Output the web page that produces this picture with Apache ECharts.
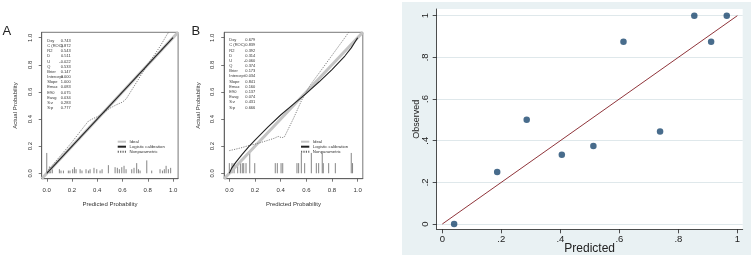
<!DOCTYPE html>
<html><head><meta charset="utf-8">
<script src="https://cdn.jsdelivr.net/npm/echarts@6/dist/echarts.min.js"></script>
<style>html,body{margin:0;padding:0;background:#fff}#c{width:753px;height:257px}</style>
</head><body><div id="c"></div>
<script>
// ---------- data ----------
const probTicks = [0, 0.2, 0.4, 0.6, 0.8, 1.0];
const statNames = ['Dxy','C (ROC)','R2','D','U','Q','Brier','Intercept','Slope','Emax','E90','Eavg','S:z','S:p'];
const statValuesA = ['0.743','0.872','0.543','0.511','-0.022','0.533','0.147','0.000','1.000','0.083','0.075','0.034','0.283','0.777'];
const statValuesB = ['0.679','0.839','0.392','0.314','-0.060','0.374','0.173','0.034','0.841','0.160','0.137','0.074','0.431','0.666'];
const legendNames = ['Ideal','Logistic calibration','Nonparametric'];
const idealLine = [[-0.04,-0.04],[1.04,1.04]];
const logisticA = [[0,0],[1,1]];
const nonparA = [[0.0,0.01],[0.05,0.065],[0.1,0.12],[0.15,0.175],[0.2,0.23],[0.25,0.29],[0.3,0.35],[0.33,0.385],[0.37,0.405],[0.42,0.425],[0.47,0.46],[0.5,0.48],[0.55,0.505],[0.6,0.525],[0.63,0.55],[0.67,0.61],[0.7,0.655],[0.75,0.73],[0.8,0.805],[0.85,0.87],[0.9,0.94],[0.95,1.02],[0.965,1.04]];
const spikesA = [[0.0,0.15],[0.021,0.05],[0.031,0.03],[0.044,0.03],[0.1,0.03],[0.113,0.02],[0.132,0.02],[0.171,0.02],[0.184,0.02],[0.205,0.03],[0.219,0.045],[0.232,0.03],[0.264,0.03],[0.279,0.02],[0.311,0.03],[0.33,0.02],[0.343,0.03],[0.374,0.04],[0.396,0.03],[0.422,0.02],[0.438,0.03],[0.488,0.06],[0.541,0.045],[0.559,0.04],[0.575,0.03],[0.594,0.045],[0.612,0.055],[0.628,0.03],[0.673,0.03],[0.691,0.04],[0.712,0.075],[0.726,0.03],[0.739,0.02],[0.792,0.095],[0.831,0.02],[0.897,0.03],[0.916,0.02],[0.931,0.03],[0.945,0.055],[0.963,0.03],[0.981,0.04]];
const logisticB = [[0,0],[0.02,0.04],[0.05,0.08],[0.1,0.14],[0.15,0.195],[0.2,0.245],[0.3,0.34],[0.4,0.43],[0.5,0.51],[0.6,0.59],[0.7,0.675],[0.8,0.765],[0.85,0.815],[0.9,0.865],[0.95,0.925],[1.0,1.0]];
const nonparB = [[0,0.167],[0.05,0.178],[0.1,0.19],[0.16,0.207],[0.2,0.215],[0.25,0.228],[0.3,0.243],[0.35,0.258],[0.38,0.272],[0.41,0.262],[0.43,0.27],[0.5,0.405],[0.564,0.54],[0.63,0.65],[0.7,0.74],[0.8,0.87],[0.9,1.0],[0.93,1.04]];
const spikesB = [[0.0,0.075],[0.021,0.075],[0.037,0.075],[0.065,0.075],[0.086,0.075],[0.101,0.075],[0.112,0.075],[0.13,0.075],[0.159,0.15],[0.198,0.075],[0.358,0.075],[0.374,0.075],[0.403,0.075],[0.416,0.075],[0.527,0.075],[0.54,0.075],[0.561,0.15],[0.587,0.075],[0.639,0.15],[0.678,0.075],[0.696,0.075],[0.724,0.15],[0.732,0.075],[0.774,0.075],[0.826,0.075],[0.95,0.15],[0.96,0.075]];
const predictedC = [0.04,0.186,0.286,0.405,0.512,0.614,0.738,0.854,0.911,0.964];
const observedC  = [0,0.25,0.5,0.333,0.375,0.875,0.444,1,0.875,1];
const fitLineC = [[0,0],[1,1]];
const cTicks = [0,0.2,0.4,0.6,0.8,1];
const cTickLabels = ['0','.2','.4','.6','.8','1'];

// ---------- chart ----------
const FONT = 'Liberation Sans, Arial, Helvetica, sans-serif';
const chart = echarts.init(document.getElementById('c'), null, {renderer:'canvas'});

function probX(gi){
  return {gridIndex:gi, type:'value', min:-0.04, max:1.04,
    name:'Predicted Probability', nameLocation:'middle', nameGap:23, nameMoveOverlap:false,
    nameTextStyle:{fontSize:6, color:'#333', fontFamily:FONT},
    axisLine:{show:true, onZero:false, lineStyle:{color:'#555', width:0.8}},
    axisTick:{show:true, length:3, customValues:probTicks, lineStyle:{color:'#555', width:0.8}},
    axisLabel:{customValues:probTicks, formatter:v=>Number(v).toFixed(1), fontSize:6, color:'#333', margin:9, fontFamily:FONT},
    splitLine:{show:false}};
}
function probY(gi){
  return {gridIndex:gi, type:'value', min:-0.04, max:1.04,
    name:'Actual Probability', nameLocation:'middle', nameGap:23, nameMoveOverlap:false,
    nameTextStyle:{fontSize:6, color:'#333', fontFamily:FONT},
    axisLine:{show:true, onZero:false, lineStyle:{color:'#555', width:0.8}},
    axisTick:{show:true, length:3, customValues:probTicks, lineStyle:{color:'#555', width:0.8}},
    axisLabel:{customValues:probTicks, rotate:90, formatter:v=>Number(v).toFixed(1), fontSize:6, color:'#333', margin:8.5, fontFamily:FONT},
    splitLine:{show:false}};
}
function spikeItem(params, api){
  const p0 = api.coord([api.value(0), 0]);
  const p1 = api.coord([api.value(0), api.value(1)]);
  return {type:'line', shape:{x1:p0[0], y1:p0[1], x2:p1[0], y2:p1[1]}, style:{stroke:'#777', lineWidth:0.9}};
}
function calSeries(gi, logistic, nonpar, spikes){
  return [
    {name:'Ideal', type:'line', xAxisIndex:gi, yAxisIndex:gi, data:idealLine, symbol:'none', silent:true,
      lineStyle:{color:'#c4c4c4', width:3}, itemStyle:{color:'#c4c4c4'}, z:2},
    {name:'Logistic calibration', type:'line', xAxisIndex:gi, yAxisIndex:gi, data:logistic, symbol:'none', smooth:false, silent:true,
      lineStyle:{color:'#222', width:1.1}, itemStyle:{color:'#222'}, z:4},
    {name:'Nonparametric', type:'line', xAxisIndex:gi, yAxisIndex:gi, data:nonpar, symbol:'none', silent:true,
      lineStyle:{color:'#666', width:0.8, type:[1.2,1.2]}, itemStyle:{color:'#666'}, z:3},
    {name:'spikes'+gi, type:'custom', xAxisIndex:gi, yAxisIndex:gi, data:spikes, renderItem:spikeItem, silent:true, z:1}
  ];
}
function statGraphics(xl, xr, yTop, values){
  return [
    {type:'text', x:xl, y:yTop, silent:true, style:{text:statNames.join('\n'), font:'4px '+FONT, fill:'#333', lineHeight:5.18, verticalAlign:'top', align:'left'}},
    {type:'text', x:xr, y:yTop, silent:true, style:{text:values.join('\n'), font:'4px '+FONT, fill:'#333', lineHeight:5.18, verticalAlign:'top', align:'right'}}
  ];
}
function legendFor(left){
  return {data:legendNames, orient:'vertical', left:left, top:139.2, itemWidth:8.3, itemHeight:5, itemGap:0, padding:0,
    selectedMode:false, itemStyle:{opacity:0},
    textStyle:{fontSize:4.3, color:'#333', lineHeight:5, padding:[0,0,0,-1.5], fontFamily:FONT}};
}

const scatterData = predictedC.map((p,i)=>[p, observedC[i]]);

const option = {
  animation:false,
  textStyle:{fontFamily:FONT},
  grid:[
    {left:41.7, top:32.3, width:136.4, height:146.4, show:true, borderColor:'#555', borderWidth:0.8, backgroundColor:'transparent', containLabel:false, outerBoundsMode:'none'},
    {left:224.2, top:32.3, width:138.6, height:146.4, show:true, borderColor:'#555', borderWidth:0.8, backgroundColor:'transparent', containLabel:false, outerBoundsMode:'none'},
    {left:436.7, top:9, width:306, height:220.3, show:true, borderWidth:0, backgroundColor:'#ffffff', containLabel:false, outerBoundsMode:'none'}
  ],
  xAxis:[ probX(0), probX(1),
    {gridIndex:2, type:'value', min:-0.019, max:1.018,
      name:'Predicted', nameLocation:'middle', nameGap:13, nameMoveOverlap:false,
      nameTextStyle:{fontSize:12, color:'#222', fontFamily:FONT},
      axisLine:{show:true, onZero:false, lineStyle:{color:'#222', width:0.8}},
      axisTick:{show:true, length:4, customValues:cTicks, lineStyle:{color:'#222', width:0.8}},
      axisLabel:{customValues:cTicks, formatter:v=>cTickLabels[cTicks.indexOf(Math.round(v*10)/10)] ?? '', fontSize:9.5, color:'#222', margin:5, fontFamily:FONT},
      splitLine:{show:false}}
  ],
  yAxis:[ probY(0), probY(1),
    {gridIndex:2, type:'value', min:-0.0254, max:1.032,
      name:'Observed', nameLocation:'middle', nameGap:15.5, nameMoveOverlap:false,
      nameTextStyle:{fontSize:9, color:'#222', fontFamily:FONT},
      axisLine:{show:true, onZero:false, lineStyle:{color:'#222', width:0.8}},
      axisTick:{show:true, length:4, customValues:cTicks, lineStyle:{color:'#222', width:0.8}},
      axisLabel:{customValues:cTicks, rotate:90, formatter:v=>cTickLabels[cTicks.indexOf(Math.round(v*10)/10)] ?? '', fontSize:9.5, color:'#222', margin:6, fontFamily:FONT},
      splitLine:{show:true, lineStyle:{color:'#dfe8eb', width:1}}}
  ],
  legend:[legendFor(116.7), legendFor(300)],
  series:[
    ...calSeries(0, logisticA, nonparA, spikesA),
    ...calSeries(1, logisticB, nonparB, spikesB),
    {name:'fit', type:'line', xAxisIndex:2, yAxisIndex:2, data:fitLineC, symbol:'none', silent:true,
      lineStyle:{color:'#90353b', width:1}, z:3},
    {name:'obs', type:'scatter', xAxisIndex:2, yAxisIndex:2, data:scatterData, symbol:'circle', symbolSize:6.5, silent:true,
      itemStyle:{color:'#1a476f'}, z:4}
  ],
  graphic:[
    {type:'rect', z:-100, silent:true, shape:{x:402, y:2, width:349, height:253}, style:{fill:'#e9f1f3'}},
    {type:'text', x:2.5, y:31.5, silent:true, style:{text:'A', font:'13px '+FONT, fill:'#222', verticalAlign:'middle'}},
    {type:'text', x:191.5, y:31.5, silent:true, style:{text:'B', font:'13px '+FONT, fill:'#222', verticalAlign:'middle'}},
    ...statGraphics(47.3, 70.7, 38.1, statValuesA),
    ...statGraphics(229.3, 255.3, 37.5, statValuesB)
  ]
};
chart.setOption(option);
</script></body></html>
